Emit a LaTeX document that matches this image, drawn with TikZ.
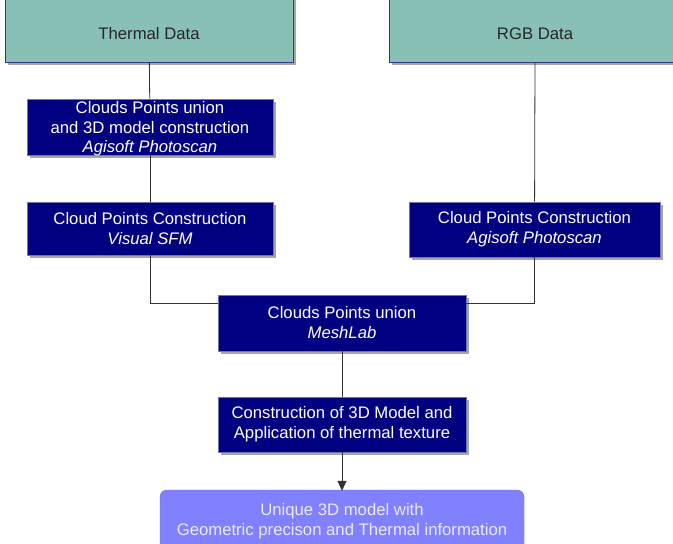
\documentclass[tikz,border=0pt]{standalone}
\usepackage{fontspec}
\setmainfont{Liberation Sans}
\usepackage{xcolor}
\usepackage{tikz}
\usetikzlibrary{positioning,shadows,arrows.meta}

\definecolor{tealbox}{HTML}{88C0B6}
\definecolor{navybox}{HTML}{000080}
\definecolor{navyline}{HTML}{2B3A8C}
\definecolor{lilabox}{HTML}{8181FF}
\definecolor{lilaline}{HTML}{6464E6}

\begin{document}
\begin{tikzpicture}[x=1pt, y=-1pt,
	dati/.style={draw=navyline, fill=tealbox, thick, minimum width=288pt, minimum height=66pt, align=center,
		font=\fontsize{16.7}{20}\selectfont, text=black!85, text height=20pt, text depth=0pt,
		drop shadow={shadow xshift=3pt, shadow yshift=-3pt, fill=black!35, opacity=1}},
	passo/.style={draw=navyline!70, fill=navybox, thick, minimum width=246pt, minimum height=55pt, align=center,
		font=\fontsize{16.7}{20}\selectfont, text=white,
		drop shadow={shadow xshift=3pt, shadow yshift=-3pt, fill=black!35, opacity=1}},
	finale/.style={draw=lilaline, fill=lilabox, rounded corners=7pt, minimum width=364pt, minimum height=62pt, align=center,
		font=\fontsize{16.7}{20}\selectfont, text=white!92!blue},
	linea/.style={draw=black!80, line width=0.8pt}]
	\useasboundingbox (0,0) rectangle (673,544);
	% blocchi
	\node[dati] (thermal) at (149,29) {Thermal Data};
	\node[dati, minimum width=292pt] (rgb) at (535,29) {RGB Data};
	\node[passo, minimum height=56pt, inner ysep=0pt, text depth=0pt, font=\fontsize{16.7}{19.5}\selectfont] (agiunion) at (150,127) {Clouds Points union\\and 3D model construction\\\textit{Agisoft Photoscan}};
	\node[passo, minimum height=53pt] (vsfm) at (150,228.5) {Cloud Points Construction\\\textit{Visual SFM}};
	\node[passo, minimum width=251pt] (agirgb) at (534.5,229.5) {Cloud Points Construction\\\textit{Agisoft Photoscan}};
	\node[passo, minimum width=248pt, minimum height=56pt] (mesh) at (342,323) {Clouds Points union\\\textit{MeshLab}};
	\node[passo, minimum width=248pt] (model) at (342,424.5) {Construction of 3D Model and\\Application of thermal texture};
	\node[finale] (unique) at (342,521) {Unique 3D model with\\Geometric precison and Thermal information};
	
	% frecce
	\draw[linea] (thermal) -- (agiunion);
	\draw[linea] (agiunion) -- (vsfm);
	\draw[linea] (vsfm) |- ([yshift=-9pt]mesh.north west);
	\draw[linea] (rgb.south) -- (agirgb);
	\draw[linea] (agirgb) |- ([yshift=-9pt]mesh.north east);
	\draw[linea] (mesh) -- (model);
	\draw[linea, -{Triangle[width=9pt,length=10pt]}, shorten >=-1pt] (model) -- (unique);
\end{tikzpicture}
\end{document}
